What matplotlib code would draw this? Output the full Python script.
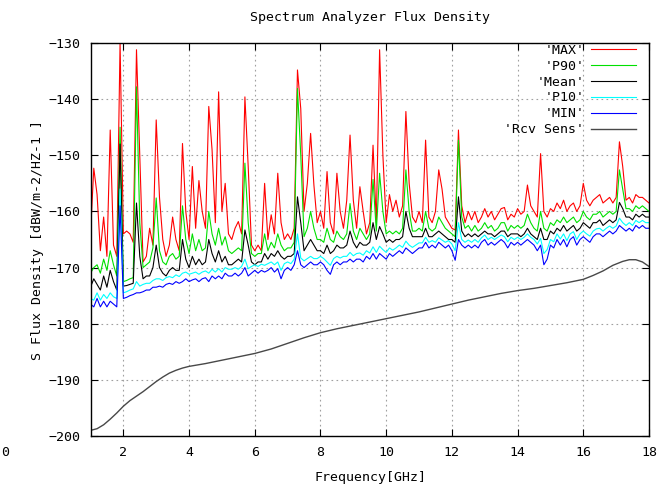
import numpy as np
import matplotlib
matplotlib.use("Agg")
import matplotlib.pyplot as plt

FONT = "DejaVu Sans Mono"
plt.rcParams["font.family"] = FONT

# frequency grid of the analyzer traces (GHz)
freq = np.round(np.arange(1.0, 18.05, 0.1), 1)

max_trace = [
    -164, -152.3, -157, -167, -161, -168, -145.5, -166, -168, -130,
    -164, -163.5, -164, -165.5, -131.2, -150, -169, -168, -163, -166,
    -143.7, -157.5, -165, -168, -166, -161, -165, -167, -147.9, -160,
    -165, -152, -163, -154.5, -160, -163, -141.3, -149, -162, -138.7,
    -160, -155, -164, -165, -163, -161.8, -164, -139.6, -152, -166,
    -167, -166, -167, -155, -165, -160.6, -164, -153.2, -162, -165,
    -164, -165, -163, -134.8, -141.7, -160, -155, -146.1, -155.3, -162,
    -160, -163, -152.9, -162, -164, -153.2, -160, -163, -158, -146.4,
    -158, -163, -155.6, -160, -164, -162, -148.2, -162, -131.2, -150,
    -162, -157, -160, -158, -161, -159, -142.2, -155, -161, -162,
    -160, -162, -147.3, -161, -162, -160, -152.6, -156, -161, -162,
    -163, -163.3, -145.5, -159, -162, -160, -161.5, -160, -162, -161,
    -159.5, -161, -160, -161.5, -160.5, -159.5, -159.3, -161.5, -160.5, -161,
    -159.5, -160.5, -160, -155.3, -159, -160, -161, -149.7, -160, -161,
    -159.5, -160, -158.5, -159.5, -158, -160, -159, -158.5, -160, -159,
    -155, -158, -159, -158, -157.5, -157, -158.5, -158, -157.5, -158.5,
    -157.5, -147.6, -152, -158, -157.5, -158.5, -157, -157.5, -157.5, -158,
    -158.5,
]

p90_trace = [
    -171, -170, -169.5, -171, -168.5, -170.5, -167, -169.5, -171.5, -145,
    -172.5, -172.3, -172, -171.8, -137.8, -162, -170, -169.5, -169, -166.5,
    -157.6, -167, -169, -169.5, -168, -167.5, -168.5, -168, -159, -165,
    -167.5, -164, -167, -165, -167, -166.5, -160, -164, -166, -163,
    -166, -164.5, -167, -167.5, -167, -166.5, -167, -151.4, -162, -167.5,
    -168, -167.5, -167.5, -164, -167, -165.5, -166.5, -164, -166, -167,
    -166.5, -166.5, -165.5, -138.1, -150, -164.5, -163, -160, -163, -165,
    -165, -165.5, -163, -165, -165.5, -163.5, -164.5, -165, -164, -158.6,
    -163.5, -165, -163, -164, -165, -164, -154.3, -163.5, -153.2, -160,
    -164, -163.5, -164, -163.5, -164, -163, -152.6, -160, -163.5, -163.5,
    -163, -163.5, -160, -163, -163.5, -163, -161, -162, -163, -163.5,
    -164, -164.5, -147.3, -161, -163, -162.5, -163.5, -162.5, -163.5, -163,
    -162, -163, -162.5, -163.5, -163, -162, -162, -163.5, -162.5, -163,
    -162.5, -163, -162.5, -160.5, -162, -163, -163.5, -160, -163, -163.5,
    -162, -162.5, -161.5, -162, -161, -162, -161.5, -161, -162, -161.5,
    -160, -161, -161.5, -160.5, -160.5, -160, -161, -160.5, -160, -160.5,
    -160, -152.6, -156, -159.5, -159.5, -160, -159, -159.5, -159, -159.5,
    -160,
]

mean_trace = [
    -173.5, -172, -173, -174, -171.5, -173.5, -170.5, -172.5, -174, -148,
    -173.3, -173.2, -173, -172.8, -158.5, -168, -172, -171.5, -171.5, -170,
    -166, -170, -171, -171.5, -170.5, -170, -170.5, -170.5, -165, -168.5,
    -170, -168, -169.5, -168.5, -169.5, -169, -165, -167.5, -169, -167,
    -169, -168, -169.5, -169.5, -169, -168.5, -169, -163.3, -166, -169,
    -169.5, -169, -169, -167.5, -168.5, -167.5, -168, -167, -168, -168.5,
    -168, -168, -167.5, -157.4, -162, -167, -166, -165, -166, -167,
    -167, -167.5, -166, -167.5, -167, -166, -166.5, -166.5, -166, -163.5,
    -165.5, -166.5, -165.5, -166, -166, -165.5, -162, -165, -162.7, -164,
    -165.5, -165, -165.5, -165, -165, -164.5, -160, -163, -164.5, -164.5,
    -164.5, -164.5, -163, -164.5, -164.5, -164, -163.5, -164, -164.5, -165,
    -165, -165.5, -157.4, -163.5, -164.5, -164, -164.5, -164, -164.5, -164,
    -163.5, -164, -164, -164.5, -164, -163.5, -163.5, -164.5, -164, -164,
    -164, -164.5, -164, -163, -164, -164.5, -165, -163, -165, -165,
    -163.5, -164, -163, -163.5, -162.5, -163.5, -163, -162.5, -163.5, -163,
    -162, -162.5, -163, -162, -162, -161.5, -162.5, -162, -161.5, -162,
    -161.5, -158.4, -159.5, -161, -161, -161.5, -160.5, -161, -160.5, -161,
    -161,
]

p10_trace = [
    -175.5, -175.8, -174.5, -175.8, -174.8, -175.5, -174.5, -175.2, -175.5, -156,
    -174.5, -174.3, -174, -173.8, -172.5, -173.3, -173, -172.8, -172.8, -172.3,
    -172, -172, -172.3, -171.8, -171.6, -171.8, -171.3, -171.6, -171, -170.8,
    -171.2, -171, -170.8, -171.2, -170.8, -170.6, -171, -170.3, -170.8, -170.2,
    -170.8, -170, -170.3, -170.3, -170, -170.3, -169.8, -168.5, -170.2, -169.8,
    -169.5, -169.8, -169.4, -169.6, -169.3, -169, -169.5, -169, -170.5, -169.3,
    -169, -169.3, -168.5, -164, -168.3, -168.8, -168.4, -168, -168.4, -168.4,
    -168, -168.4, -169, -169.6, -168.4, -168, -168.3, -168, -168, -167.3,
    -167.9, -167.5, -167.4, -167.8, -167, -167.4, -166.3, -167.3, -166.2, -166.8,
    -167.3, -166.5, -166.9, -166.5, -166, -166.4, -165.3, -166, -166.4, -166,
    -165.6, -165.6, -164.6, -165.5, -165.2, -165.5, -164.7, -165.1, -165.5, -165.2,
    -165.8, -167, -162, -165, -165.5, -165.1, -165.5, -165, -165.5, -164.7,
    -164.2, -165, -164.6, -165, -164.6, -164.2, -164.5, -165.4, -164.6, -165,
    -164.6, -165, -164.6, -164, -164.6, -165, -165.8, -164.8, -167.5, -166.8,
    -165, -165.4, -164, -164.9, -164, -165.2, -164, -163.6, -165, -164,
    -163.5, -164, -164.4, -163.5, -163.1, -163, -163.5, -163, -162.6, -163,
    -162.6, -161.2, -162, -162.5, -162, -162.5, -161.6, -162, -161.6, -162,
    -162,
]

min_trace = [
    -176.5, -177, -175.5, -177, -176, -177, -176, -176.5, -177, -159,
    -175.5, -175.3, -175, -174.8, -174.5, -174.5, -174.3, -174, -174, -173.5,
    -173.5, -173.3, -173.5, -173, -172.8, -173, -172.5, -172.8, -172.5, -172,
    -172.5, -172.2, -172, -172.5, -172, -171.8, -172.5, -171.5, -172, -171.5,
    -172, -171, -171.5, -171.5, -171, -171.5, -171, -170, -171.5, -171,
    -170.5, -171, -170.5, -170.8, -170.5, -170, -170.8, -170.2, -172, -170.5,
    -170, -170.5, -169.5, -167, -169.5, -170, -169.5, -169, -169.5, -169.5,
    -169, -169.5, -170.5, -171.2, -169.5, -169, -169.5, -169, -169, -168.5,
    -169, -168.5, -168.5, -169, -168, -168.5, -167.5, -168.5, -167.5, -168,
    -168.5, -167.5, -168, -167.5, -167, -167.5, -166.5, -167, -167.5, -167,
    -166.5, -166.5, -165.5, -166.5, -166, -166.5, -165.5, -166, -166.5, -166,
    -167, -168.7, -165, -166, -166.5, -166, -166.5, -166, -166.5, -165.5,
    -165, -166, -165.5, -166, -165.5, -165, -165.5, -166.5, -165.5, -166,
    -165.5, -166, -165.5, -165, -165.5, -166, -167, -166, -169.5, -168.5,
    -166, -166.5, -165, -166, -165, -166.3, -165, -164.5, -166, -165,
    -164.5, -165, -165.5, -164.5, -164, -164, -164.5, -164, -163.5, -164,
    -163.5, -162.5, -163, -163.5, -163, -163.5, -162.5, -163, -162.5, -163,
    -163,
]

# receiver sensitivity curve
sens_freq = [1.0, 1.2, 1.4, 1.6, 1.8, 2.0, 2.2, 2.4, 2.6, 2.8, 3.0, 3.2, 3.4, 3.6,
             3.8, 4.0, 4.5, 5.0, 5.5, 6.0, 6.5, 7.0, 7.5, 8.0, 8.5, 9.0, 9.5, 10.0,
             10.5, 11.0, 11.5, 12.0, 12.5, 13.0, 13.5, 14.0, 14.5, 15.0, 15.5, 16.0,
             16.3, 16.6, 16.9, 17.2, 17.4, 17.6, 17.8, 18.0]
sens_val = [-199.0, -198.7, -198.0, -197.0, -195.9, -194.7, -193.7, -192.9, -192.1,
            -191.2, -190.3, -189.5, -188.8, -188.3, -187.9, -187.6, -187.1, -186.5,
            -185.9, -185.3, -184.5, -183.5, -182.5, -181.6, -180.9, -180.3, -179.7,
            -179.1, -178.5, -177.9, -177.2, -176.5, -175.8, -175.2, -174.6, -174.1,
            -173.7, -173.2, -172.7, -172.1, -171.4, -170.6, -169.6, -168.9, -168.6,
            -168.6, -169.0, -169.8]

x_ticks = [2, 4, 6, 8, 10, 12, 14, 16, 18]
y_ticks = [-200, -190, -180, -170, -160, -150, -140, -130]

W, H = 670, 484
fig = plt.figure(figsize=(W / 100, H / 100), dpi=100)
ax = fig.add_axes([90.5 / W, 1 - 436 / H, (649 - 90.5) / W, (436 - 43) / H])

lw = 0.8
ax.plot(freq, max_trace, color="#ff0000", lw=lw, label="'MAX'")
ax.plot(freq, p90_trace, color="#00e000", lw=lw, label="'P90'")
ax.plot(freq, mean_trace, color="#000000", lw=lw, label="'Mean'")
ax.plot(freq, p10_trace, color="#00ffff", lw=lw, label="'P10'")
ax.plot(freq, min_trace, color="#0000ff", lw=lw, label="'MIN'")
ax.plot(sens_freq, sens_val, color="#484848", lw=1.0, label="'Rcv Sens'")

ax.set_xlim(1.0, 18.0)
ax.set_ylim(-200, -130)
ax.set_xticks(x_ticks)
ax.set_yticks(y_ticks)
ax.tick_params(direction="in", top=True, right=True, length=5, width=0.8,
               labelsize=9.5, pad=7)
ax.grid(True, color="#a0a0a0", linestyle=(0, (1.5, 3)), lw=0.8)
for s in ax.spines.values():
    s.set_linewidth(1.0)

leg = ax.legend(loc="upper right", bbox_to_anchor=(0.976, 0.998), markerfirst=False,
                frameon=False, fontsize=9.5, handlelength=3.4, handletextpad=0.5,
                labelspacing=0.22, borderaxespad=0, borderpad=0)

fig.text(370 / W, 1 - 18 / H, "Spectrum Analyzer Flux Density", ha="center",
         va="center", fontsize=9.5)
fig.text(370 / W, 1 - 477 / H, "Frequency[GHz]", ha="center", va="center", fontsize=9.5)
fig.text(38 / W, 1 - 240 / H, "S Flux Density [dBW/m-2/HZ-1 ]", ha="center",
         va="center", rotation=90, fontsize=9.5)
# stray tick label at the far left edge of the original
fig.text(1 / W, 1 - 453 / H, "0", ha="left", va="center", fontsize=9.5)

fig.savefig("out.png", dpi=100, facecolor="white")
